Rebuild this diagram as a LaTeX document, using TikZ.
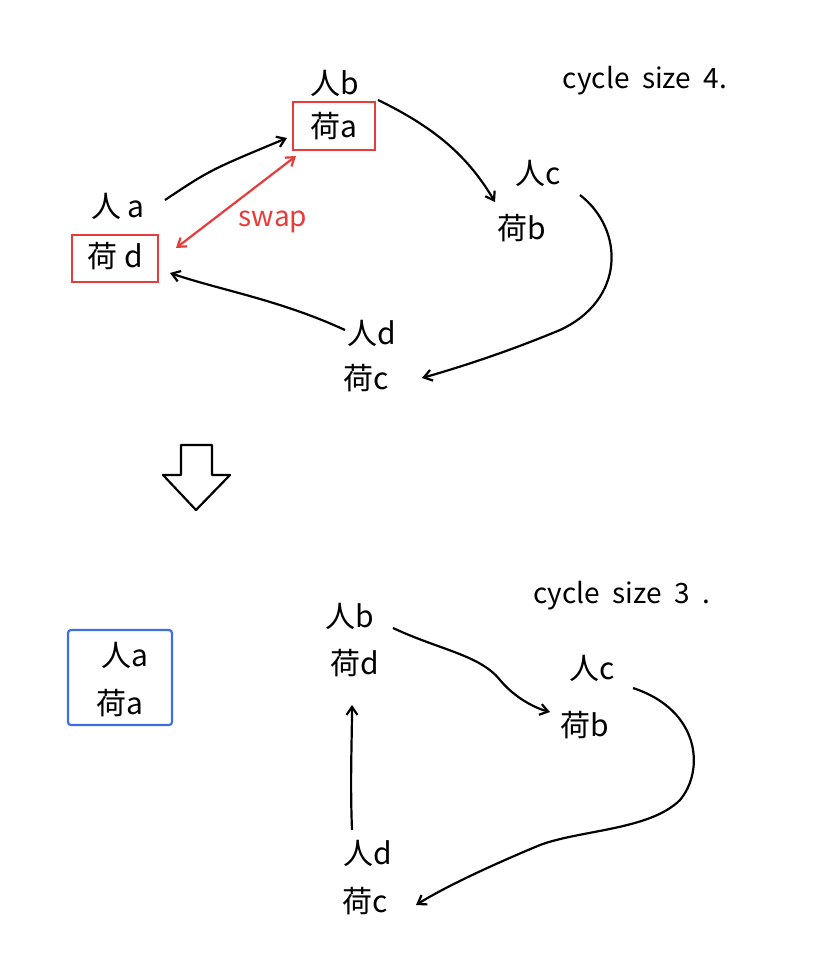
\documentclass[tikz,border=0pt]{standalone}
\usepackage{fontspec}
\setmainfont{Noto Sans CJK JP}
\usetikzlibrary{arrows.meta}
\begin{document}
\begin{tikzpicture}[x=1pt,y=-1pt,
  lbl/.style={font=\fontsize{30}{32}\selectfont,inner sep=1pt},
  note/.style={font=\fontsize{28}{30}\selectfont},
  con/.style={line width=2.2pt,-{Straight Barb[length=8pt,width=11pt]}},
  red/.style={draw={rgb,255:red,230;green,60;blue,60},line width=2.2pt}]
\useasboundingbox (0,0) rectangle (817,962);
% top
\node[lbl] (pb) at (335,83) {人b};
\node[lbl] (ka) at (334,126) {荷a};
\draw[red] (293,102) rectangle (375,150);
\node[lbl] (pc) at (538,173) {人c};
\node[lbl] (kb) at (522,228) {荷b};
\node[lbl] (pa) at (118,206) {人 a};
\node[lbl] (kd) at (115,256) {荷 d};
\draw[red] (72,235) rectangle (158,282);
\node[lbl] (pd) at (372,333) {人d};
\node[lbl] (kc) at (366,378) {荷c};
\node[note] (c4) at (645,81) {cycle\ \ size\ \ 4.};
\node[note,text={rgb,255:red,230;green,60;blue,60}] (sw) at (273,222) {swap};
\coordinate (a1) at (165,200); \coordinate (a2) at (287,138);
\draw[con] (a1) .. controls (210,170) .. (a2);
\coordinate (b1) at (378,100); \coordinate (b2) at (495,202);
\draw[con] (b1) .. controls (440,130) and (470,160) .. (b2);
\coordinate (c1) at (580,195); \coordinate (c2) at (422,378);
\draw[con] (c1) .. controls (625,230) and (625,300) .. (560,330) .. controls (500,355) and (450,370) .. (c2);
\coordinate (d1) at (345,330); \coordinate (d2) at (170,273);
\draw[con] (d1) .. controls (280,300) and (220,290) .. (d2);
\coordinate (s1) at (296,156); \coordinate (s2) at (176,248);
\draw[red,{Straight Barb[length=8pt,width=11pt]}-{Straight Barb[length=8pt,width=11pt]}] (s1) -- (s2);
% big arrow
\draw[line width=2.2pt,line join=round] (181,445) -- (212,445) -- (212,475) -- (230,475) -- (196,510) -- (163,475) -- (181,475) -- cycle;
% bottom
\draw[draw={rgb,255:red,60;green,110;blue,230},line width=2.2pt,rounded corners=3pt] (68,630) rectangle (172,725);
\node[lbl] (pa2) at (125,655) {人a};
\node[lbl] (ka2) at (120,703) {荷a};
\node[lbl] (pb2) at (350,616) {人b};
\node[lbl] (kd2) at (355,663) {荷d};
\node[lbl] (pc2) at (592,668) {人c};
\node[lbl] (kb2) at (585,725) {荷b};
\node[lbl] (pd2) at (368,853) {人d};
\node[lbl] (kc2) at (365,901) {荷c};
\node[note] (c3) at (622,596) {cycle\ \ size\ \ 3\ \ .};
\coordinate (e1) at (393,628); \coordinate (e2) at (550,712);
\draw[con] (e1) .. controls (440,650) and (480,655) .. (500,680) .. controls (515,698) and (535,708) .. (e2);
\coordinate (f1) at (633,688); \coordinate (f2) at (416,905);
\draw[con] (f1) .. controls (700,710) and (705,770) .. (680,800) .. controls (650,830) and (580,830) .. (540,845) .. controls (480,870) and (440,890) .. (f2);
\coordinate (g1) at (352,830); \coordinate (g2) at (352,705);
\draw[con] (g1) .. controls (350,780) and (352,740) .. (g2);
\end{tikzpicture}
\end{document}
